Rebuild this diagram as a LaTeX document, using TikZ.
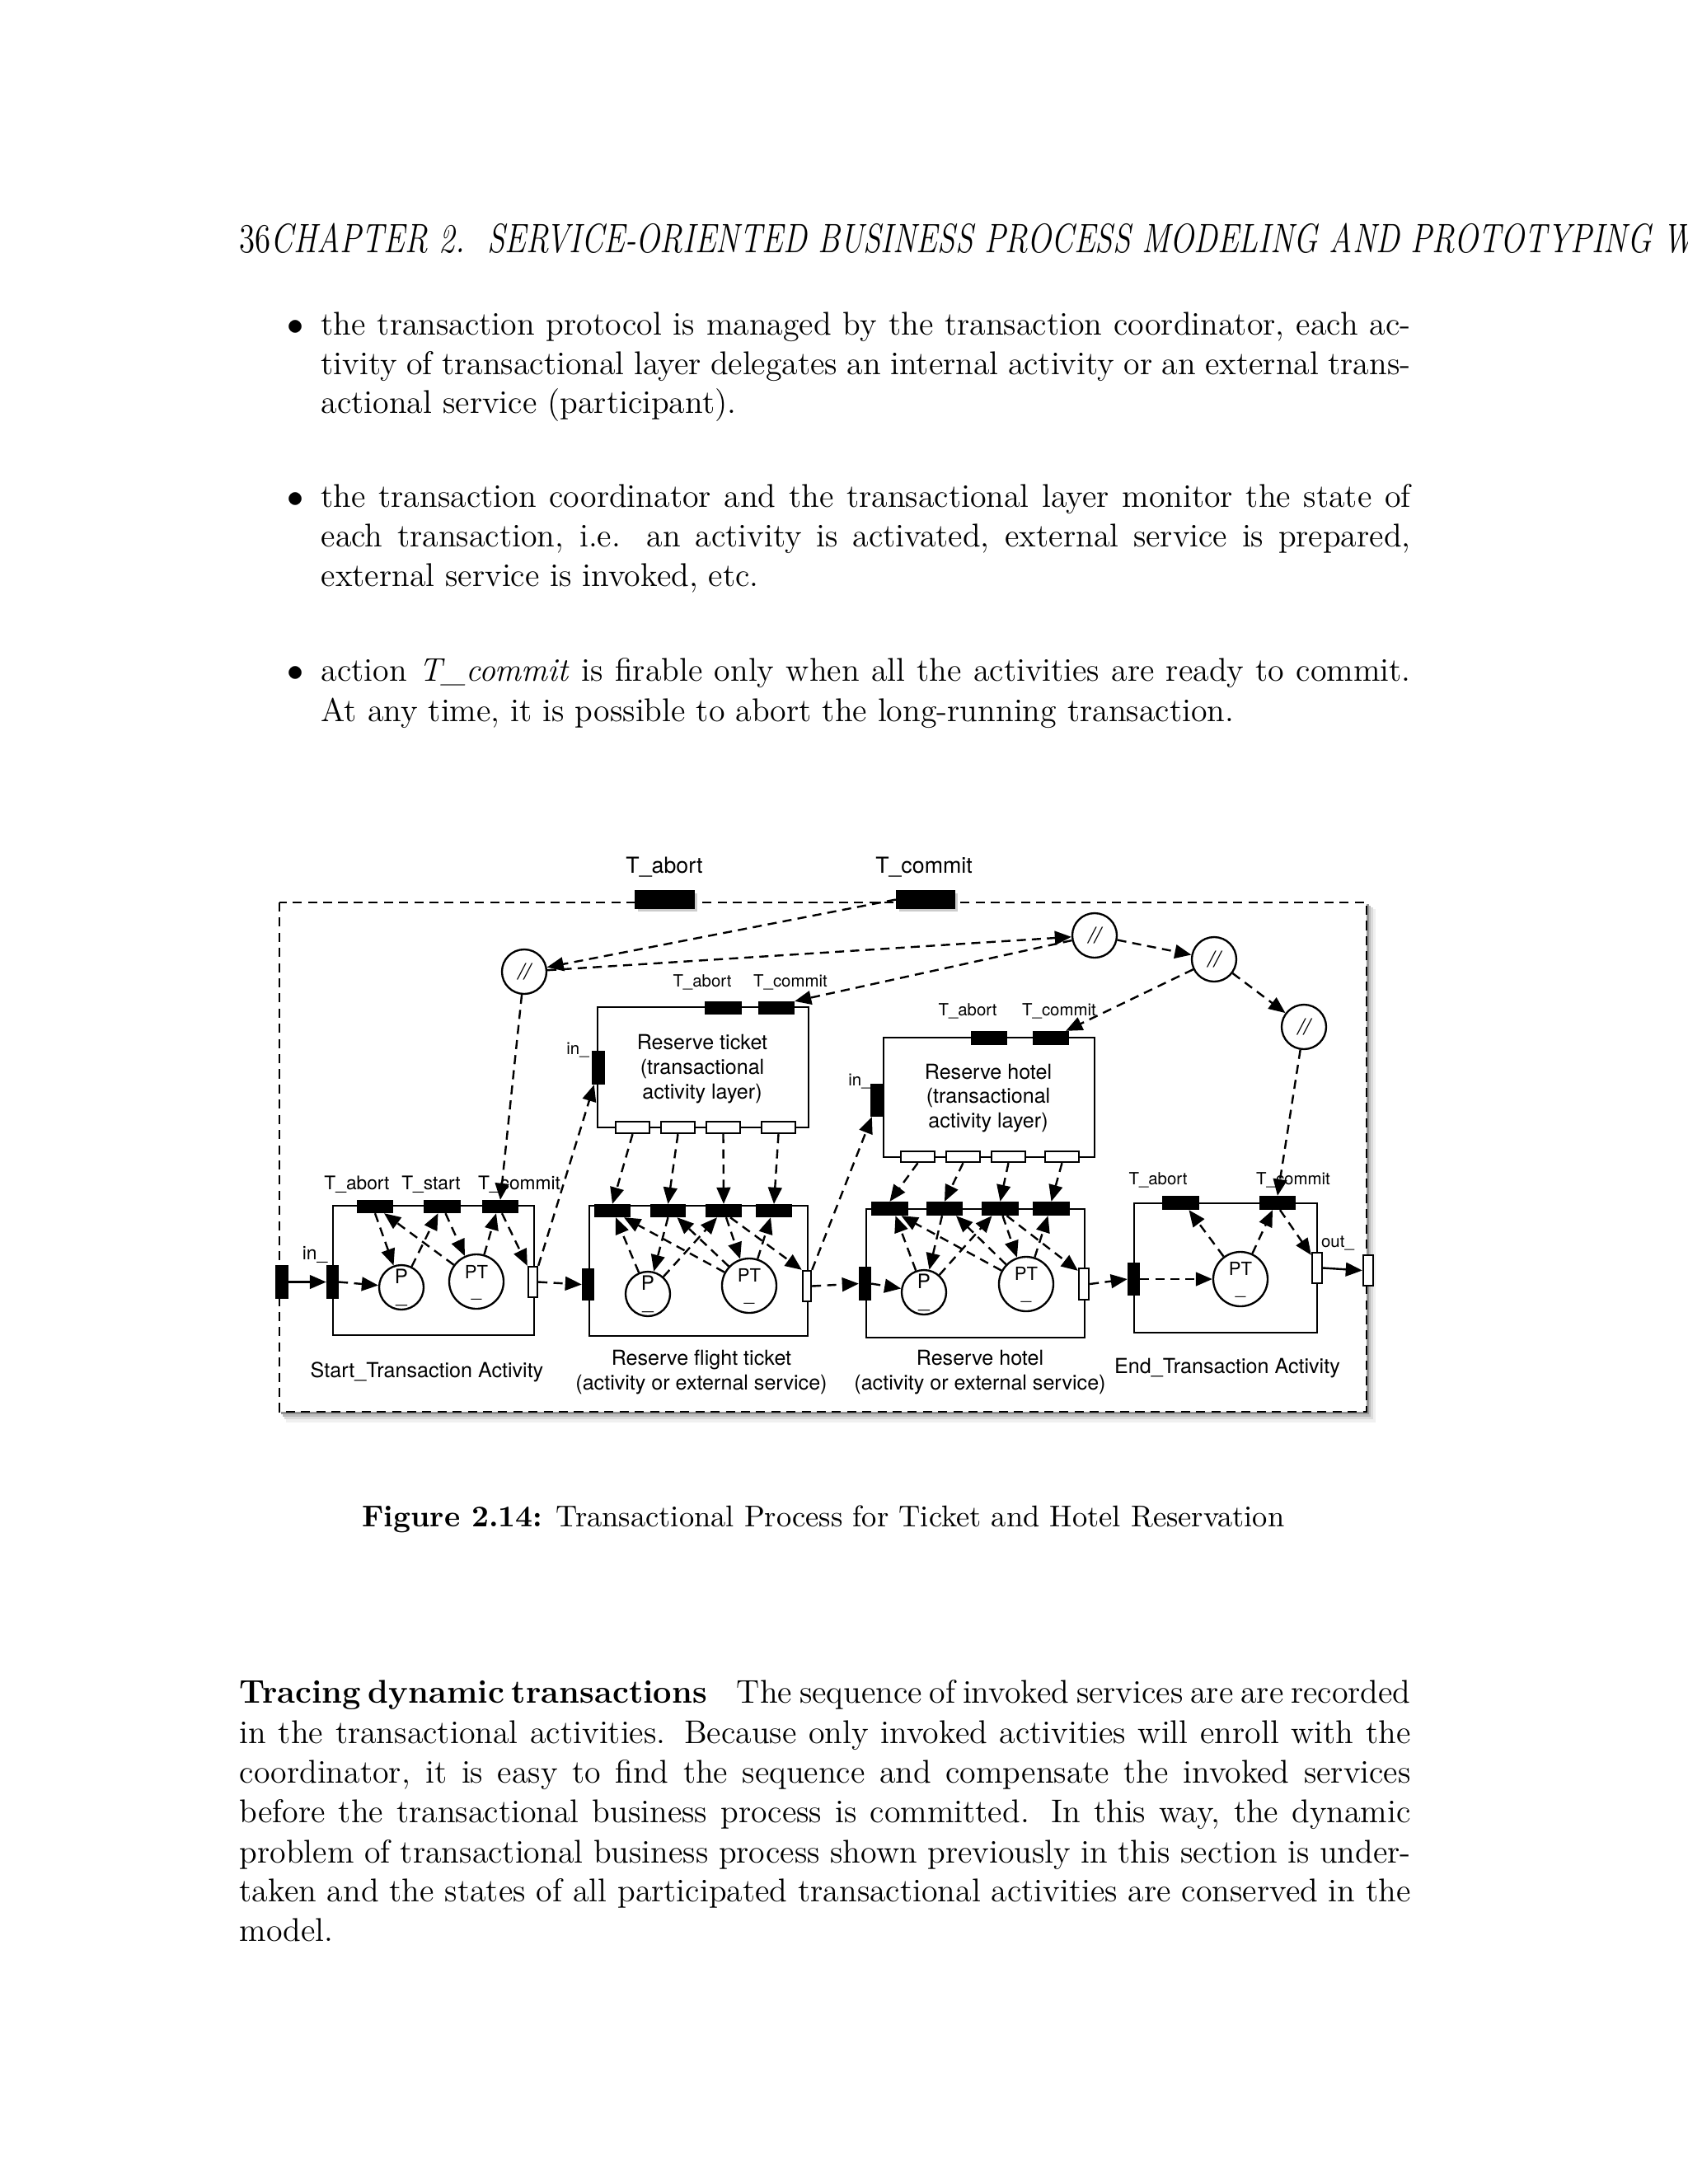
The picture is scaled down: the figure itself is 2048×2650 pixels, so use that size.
\documentclass[tikz,border=0pt]{standalone}
\usepackage{fontspec}
\newfontfamily\hv{TeX Gyre Heros}
\usetikzlibrary{arrows.meta,calc,fit}
\def\u{0.29883pt}
\def\bw{395.05pt}
\def\pw{424.64pt}
\tikzset{
  bx/.style={draw, line width=0.7pt, inner sep=0pt, fill=white},
  bb/.style={draw, fill=black, line width=0.7pt, inner sep=0pt},
  wb/.style={draw, fill=white, line width=0.7pt, inner sep=0pt},
  pl/.style={draw, circle, line width=0.7pt, inner sep=0pt, fill=white, minimum size=54*\u},
  plt/.style={pl, minimum size=66*\u},
  da/.style={line width=0.72pt, dash pattern=on 3.3pt off 2.2pt, -{Triangle[length=6pt,width=5pt]}},
  sa/.style={line width=0.72pt, -{Triangle[length=6pt,width=5pt]}},
  tx/.style={inner sep=0pt, anchor=base, font=\hv\fontsize{7.5}{9}\selectfont},
  ts/.style={tx, font=\hv\fontsize{6.1}{7}\selectfont},
  tm/.style={tx, font=\hv\fontsize{6.8}{8}\selectfont},
  tb/.style={tx, font=\hv\fontsize{8}{9.6}\selectfont},
  tp/.style={tx, font=\hv\fontsize{7.2}{8}\selectfont},
  tq/.style={tx, font=\hv\fontsize{6.6}{8}\selectfont},
  sl/.style={font=\hv\itshape\fontsize{8}{9}\selectfont},
  body/.style={inner sep=0pt, anchor=base west, font=\fontsize{11.92}{14.5}\selectfont},
}
\begin{document}
\begin{tikzpicture}[x=0.29883pt,y=-0.29883pt]
\useasboundingbox (0,0) rectangle (2048,2650);
\fill[white] (0,0) rectangle (2048,2650);

% ---------------- page text ----------------
\node[body] (hdr) at (290,306) {\scalebox{0.975}[1.25]{36\textit{CHAPTER 2.\ \ SERVICE-ORIENTED BUSINESS PROCESS MODELING AND PROTOTYPING W}}};

\node[body, anchor=base east] (b1) at (369,406.7) {$\bullet$};
\node[body] (l11) at (389,406.7) {\makebox[\bw][s]{the transaction protocol is managed by the transaction coordinator, each ac-}};
\node[body] (l12) at (389,454) {\makebox[\bw][s]{tivity of transactional layer delegates an internal activity or an external trans-}};
\node[body] (l13) at (389,501.7) {actional service (participant).};

\node[body, anchor=base east] (b2) at (369,615) {$\bullet$};
\node[body] (l21) at (389,615) {\makebox[\bw][s]{the transaction coordinator and the transactional layer monitor the state of}};
\node[body] (l22) at (389,663.3) {\makebox[\bw][s]{each transaction, i.e. an activity is activated, external service is prepared,}};
\node[body] (l23) at (389,711.7) {external service is invoked, etc.};

\node[body, anchor=base east] (b3) at (369,826.7) {$\bullet$};
\node[body] (l31) at (389,826.7) {\makebox[\bw][s]{action \textit{T\_commit} is firable only when all the activities are ready to commit.}};
\node[body] (l32) at (389,875) {At any time, it is possible to abort the long-running transaction.};

\node[inner sep=0pt, anchor=base, font=\fontsize{10.9}{13.6}\selectfont] (cap) at (999,1852) {\textbf{Figure 2.14:} Transactional Process for Ticket and Hotel Reservation};

\node[body] (p1) at (290,2066.7) {\makebox[\pw][s]{\spaceskip=3.9pt plus 2pt minus 1.8pt\textbf{Tracing dynamic transactions}\hspace{0.9em}The sequence of invoked services are are recorded}};
\node[body] (p2) at (290,2115) {\makebox[\pw][s]{in the transactional activities. Because only invoked activities will enroll with the}};
\node[body] (p3) at (290,2163) {\makebox[\pw][s]{coordinator, it is easy to find the sequence and compensate the invoked services}};
\node[body] (p4) at (290,2211.7) {\makebox[\pw][s]{before the transactional business process is committed. In this way, the dynamic}};
\node[body] (p5) at (290,2260) {\makebox[\pw][s]{problem of transactional business process shown previously in this section is under-}};
\node[body] (p6) at (290,2307.7) {\makebox[\pw][s]{taken and the states of all participated transactional activities are conserved in the}};
\node[body] (p7) at (290,2355) {model.};

% ---------------- figure frame with shadow ----------------
\fill[black!6] (347,1103) rectangle (1669,1726);
\fill[black!14] (345,1101) rectangle (1666,1722);
\fill[black!26] (343,1099) rectangle (1663,1719);
\fill[black!42] (341,1097) rectangle (1661,1716);
\fill[white] (339,1095) rectangle (1658,1713);
\draw[line width=0.8pt, dash pattern=on 3.3pt off 2.2pt] (339,1095) rectangle (1658,1713);

% ---------------- activity boxes ----------------
\node[bx, fit={(725,1222)(981,1368)}] (rt) {};
\node[bx, fit={(1072,1259)(1328,1404)}] (rh) {};
\node[bx, fit={(404,1463)(648,1620)}] (s) {};
\node[bx, fit={(715,1463)(980,1621)}] (f) {};
\node[bx, fit={(1051,1467)(1316,1623)}] (h) {};
\node[bx, fit={(1376,1460)(1598,1617)}] (e) {};

% top-level transitions
\fill[black!20] (774,1084) rectangle (846,1106);
\fill[black!20] (1091,1084) rectangle (1162,1106);
\node[bb, fit={(771,1081)(842,1102)}] (ta) {};
\node[bb, fit={(1088,1081)(1158,1102)}] (tc) {};
\node[tb] (ta-l) at (806,1059) {T\_abort};
\node[tb] (tc-l) at (1121,1059) {T\_commit};

% split circles
\node[pl, sl] (c1) at (636,1179) {//};
\node[pl, sl] (c2) at (1328,1135) {//};
\node[pl, sl] (c3) at (1473,1164) {//};
\node[pl, sl] (c4) at (1582,1246) {//};

% reserve ticket layer
\node[bb, fit={(856,1216)(899,1230)}] (rt-ta) {};
\node[bb, fit={(921,1216)(963,1230)}] (rt-tc) {};
\node[bb, fit={(719,1276)(733,1315)}] (rt-in) {};
\node[wb, fit={(747,1361)(788,1375)}] (rt-w1) {};
\node[wb, fit={(802,1361)(843,1375)}] (rt-w2) {};
\node[wb, fit={(857,1361)(898,1375)}] (rt-w3) {};
\node[wb, fit={(924,1361)(965,1375)}] (rt-w4) {};
\node[ts] (rt-tal) at (852,1197) {T\_abort};
\node[ts] (rt-tcl) at (959,1197) {T\_commit};
\node[ts] (rt-inl) at (701,1279) {in\_};
\node[tx] (rt-t1) at (852,1273) {Reserve ticket};
\node[tx] (rt-t2) at (852,1303) {(transactional};
\node[tx] (rt-t3) at (852,1333) {activity layer)};

% reserve hotel layer
\node[bb, fit={(1179,1252)(1221,1267)}] (rh-ta) {};
\node[bb, fit={(1254,1252)(1296,1267)}] (rh-tc) {};
\node[bb, fit={(1057,1316)(1072,1354)}] (rh-in) {};
\node[wb, fit={(1093,1397)(1134,1410)}] (rh-w1) {};
\node[wb, fit={(1148,1397)(1189,1410)}] (rh-w2) {};
\node[wb, fit={(1203,1397)(1244,1410)}] (rh-w3) {};
\node[wb, fit={(1268,1397)(1309,1410)}] (rh-w4) {};
\node[ts] (rh-tal) at (1174,1232) {T\_abort};
\node[ts] (rh-tcl) at (1285,1232) {T\_commit};
\node[ts] (rh-inl) at (1043,1317) {in\_};
\node[tx] (rh-t1) at (1199,1309) {Reserve hotel};
\node[tx] (rh-t2) at (1199,1338) {(transactional};
\node[tx] (rh-t3) at (1199,1368) {activity layer)};

% start transaction activity
\node[bb, fit={(335,1536)(349,1575)}] (o-in) {};
\node[bb, fit={(434,1457)(476,1471)}] (s-ta) {};
\node[bb, fit={(515,1457)(558,1471)}] (s-ts) {};
\node[bb, fit={(586,1457)(628,1471)}] (s-tc) {};
\node[bb, fit={(397,1536)(410,1575)}] (s-in) {};
\node[wb, fit={(641,1537)(652,1574)}] (s-out) {};
\node[pl] (s-p) at (487,1562) {};
\node[plt] (s-pt) at (578,1555) {};
\node[tp] (s-pl) at (487,1557) {P};
\node[tp] (s-pu) at (487,1580) {\_};
\node[tq] (s-ptl) at (578,1551) {PT};
\node[tq] (s-ptu) at (578,1573) {\_};
\node[tm] (s-tal) at (433,1443) {T\_abort};
\node[tm] (s-tsl) at (523,1443) {T\_start};
\node[tm] (s-tcl) at (630,1443) {T\_commit};
\node[tm] (s-inl) at (382,1528) {in\_};
\node[tx] (s-lab) at (518,1671) {Start\_Transaction Activity};

% reserve flight ticket
\node[bb, fit={(722,1462)(764,1476)}] (f-b1) {};
\node[bb, fit={(790,1462)(831,1476)}] (f-b2) {};
\node[bb, fit={(857,1462)(899,1476)}] (f-b3) {};
\node[bb, fit={(918,1462)(960,1476)}] (f-b4) {};
\node[bb, fit={(707,1540)(720,1577)}] (f-in) {};
\node[wb, fit={(974,1542)(984,1579)}] (f-out) {};
\node[pl] (f-p) at (786,1570) {};
\node[plt] (f-pt) at (909,1560) {};
\node[tp] (f-pl) at (786,1565) {P};
\node[tp] (f-pu) at (786,1588) {\_};
\node[tq] (f-ptl) at (909,1555) {PT};
\node[tq] (f-ptu) at (909,1578) {\_};
\node[tx] (f-lab1) at (851,1656) {Reserve flight ticket};
\node[tx] (f-lab2) at (851,1686) {(activity or external service)};

% reserve hotel
\node[bb, fit={(1058,1459)(1101,1474)}] (h-b1) {};
\node[bb, fit={(1125,1459)(1167,1474)}] (h-b2) {};
\node[bb, fit={(1192,1459)(1235,1474)}] (h-b3) {};
\node[bb, fit={(1254,1459)(1297,1474)}] (h-b4) {};
\node[bb, fit={(1043,1538)(1056,1577)}] (h-in) {};
\node[wb, fit={(1309,1539)(1321,1577)}] (h-out) {};
\node[pl] (h-p) at (1121,1568) {};
\node[plt] (h-pt) at (1245,1558) {};
\node[tp] (h-pl) at (1121,1563) {P};
\node[tp] (h-pu) at (1121,1586) {\_};
\node[tq] (h-ptl) at (1245,1553) {PT};
\node[tq] (h-ptu) at (1245,1576) {\_};
\node[tx] (h-lab1) at (1189,1656) {Reserve hotel};
\node[tx] (h-lab2) at (1189,1686) {(activity or external service)};

% end transaction activity
\node[bb, fit={(1369,1533)(1382,1571)}] (e-in) {};
\node[bb, fit={(1411,1452)(1454,1467)}] (e-ta) {};
\node[bb, fit={(1529,1452)(1571,1467)}] (e-tc) {};
\node[wb, fit={(1592,1520)(1604,1557)}] (e-out) {};
\node[wb, fit={(1654,1523)(1666,1560)}] (o-out) {};
\node[plt] (e-pt) at (1505,1552) {};
\node[tq] (e-ptl) at (1505,1547) {PT};
\node[tq] (e-ptu) at (1505,1570) {\_};
\node[ts] (e-tal) at (1405,1437) {T\_abort};
\node[ts] (e-tcl) at (1569,1437) {T\_commit};
\node[ts] (e-outl) at (1623,1513) {out\_};
\node[tx] (e-lab) at (1489,1666) {End\_Transaction Activity};

% ---------------- connectors ----------------
% coordination
\draw[da] (tc.west) -- (c1);
\draw[da] (c1) -- (c2);
\draw[da] (c1) -- (s-tc.north);
\draw[da] (c2) -- (rt-tc.north east);
\draw[da] (c2) -- (c3);
\draw[da] (c3) -- ($(rh-tc.north east)+(-4,0)$);
\draw[da] (c3) -- (c4);
\draw[da] (c4) -- (e-tc.north);

% layers to activities
\draw[da] (rt-w1.south) -- (f-b1.north);
\draw[da] (rt-w2.south) -- (f-b2.north);
\draw[da] (rt-w3.south) -- (f-b3.north);
\draw[da] (rt-w4.south) -- (f-b4.north);
\draw[da] (rh-w1.south) -- (h-b1.north);
\draw[da] (rh-w2.south) -- (h-b2.north);
\draw[da] (rh-w3.south) -- (h-b3.north);
\draw[da] (rh-w4.south) -- (h-b4.north);

% main flow
\draw[sa] (o-in.east) -- (s-in.west);
\draw[da] (s-in.east) -- (s-p);
\draw[da] (s-out.east) -- (f-in.west);
\draw[da] (s-out.north east) -- ($(rt-in.south west)+(3,0)$);
\draw[da] (f-out.east) -- (h-in.west);
\draw[da] (f-out.north east) -- ($(rh-in.south west)+(2,0)$);
\draw[da] (h-in.east) -- (h-p);
\draw[da] (h-out.east) -- (e-in.west);
\draw[da] (e-in.east) -- (e-pt);
\draw[sa] (e-out.east) -- (o-out.west);

% start activity internals
\draw[da] (s-ta.south) -- (s-p);
\draw[da] (s-p) -- ($(s-ts.south)+(-5,0)$);
\draw[da] (s-pt) -- ($(s-ta.south)+(11,0)$);
\draw[da] ($(s-ts.south)+(4,0)$) -- (s-pt);
\draw[da] (s-pt) -- ($(s-tc.south)+(-5,0)$);
\draw[da] ($(s-tc.south)+(2,0)$) -- (s-out.north west);

% flight internals
\draw[da] (f-b2.south) -- (f-p);
\draw[da] (f-p) -- ($(f-b1.south)+(4,0)$);
\draw[da] (f-pt) -- ($(f-b1.south)+(14,0)$);
\draw[da] (f-pt) -- ($(f-b2.south)+(11,0)$);
\draw[da] (f-p) -- ($(f-b3.south)+(-8,0)$);
\draw[da] ($(f-b3.south)+(3,0)$) -- (f-pt);
\draw[da] (f-pt) -- ($(f-b4.south)+(-4,0)$);
\draw[da] ($(f-b3.south)+(8,0)$) -- (f-out.north west);

% hotel internals
\draw[da] (h-p) -- ($(h-b1.south)+(7,0)$);
\draw[da] ($(h-b2.south)+(-3,0)$) -- (h-p);
\draw[da] (h-pt) -- ($(h-b1.south)+(14,0)$);
\draw[da] (h-pt) -- ($(h-b2.south)+(14,0)$);
\draw[da] (h-p) -- ($(h-b3.south)+(-10,0)$);
\draw[da] ($(h-b3.south)+(3,0)$) -- (h-pt);
\draw[da] (h-pt) -- ($(h-b4.south)+(-4,0)$);
\draw[da] ($(h-b3.south)+(8,0)$) -- ($(h-out.north west)+(0,4)$);

% end internals
\draw[da] (e-pt) -- ($(e-ta.south)+(10,0)$);
\draw[da] (e-pt) -- ($(e-tc.south)+(-6,0)$);
\draw[da] ($(e-tc.south)+(3,0)$) -- ($(e-out.north west)+(0,4)$);
\end{tikzpicture}
\end{document}
